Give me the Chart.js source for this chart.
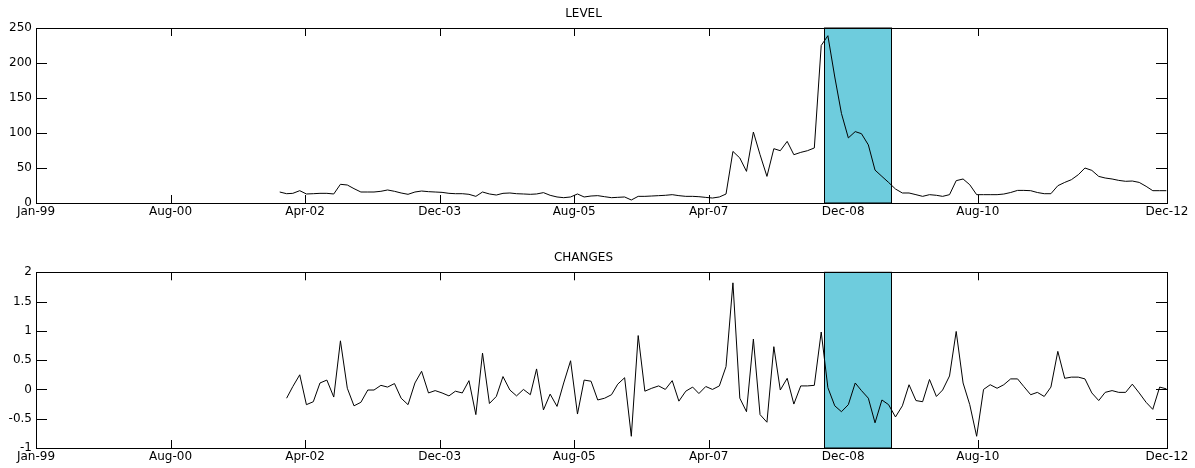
<!DOCTYPE html>
<html>
<head>
<meta charset="utf-8">
<script src="https://cdn.jsdelivr.net/npm/chart.js@4/dist/chart.umd.min.js"></script>
<style>
  html, body { margin: 0; padding: 0; background: #fff; }
  canvas { display: block; }
</style>
</head>
<body>
<canvas id="levelChart" width="1195" height="234"></canvas>
<canvas id="changesChart" width="1195" height="234"></canvas>
<script>
// monthly series
const levelStart = [2002, 0]; // Jan-02
const levelValues = [
  15.7, 13.3, 13.8, 17.6, 12.9, 13.3, 13.8, 13.8, 12.9, 26.7, 25.7, 20.5,
  15.7, 15.7, 15.7, 16.7, 18.6, 16.7, 14.3, 12.4, 15.7, 17.1, 16.2, 15.7,
  15.2, 13.8, 13.3, 13.3, 12.4, 9.5, 15.7, 12.9, 11.4, 13.8, 14.3, 13.3,
  12.9, 12.4, 12.9, 14.8, 11.0, 8.6, 7.6, 8.6, 12.9, 8.6, 10.0, 10.5,
  9.0, 7.6, 8.1, 8.6, 4.3, 9.5, 9.5, 10.0, 10.5, 11.0, 11.9, 10.5,
  9.5, 9.5, 9.0, 8.0, 7.1, 8.6, 12.8, 73.7, 64.3, 45.2, 101.4, 69.0,
  38.0, 77.6, 74.7, 88.0, 69.0, 72.3, 74.7, 78.6, 225, 239, 180, 128,
  93, 102, 99, 83, 47, 38, 29.4, 20.0, 14.3, 14.3, 11.9, 9.5,
  11.9, 11.0, 9.5, 11.9, 31.9, 34.3, 26.1, 11.9, 11.9, 11.9, 11.9, 12.8,
  15.0, 18.0, 18.0, 17.6, 15.0, 13.3, 13.3, 24.7, 29.4, 33.3, 40.4, 50.0,
  46.6, 38.0, 35.7, 34.3, 32.3, 31.0, 31.4, 29.4, 23.8, 17.6, 17.6, 17.6
];

const changesStart = [2002, 1]; // Feb-02
const changesValues = [
  -0.15, 0.05, 0.25, -0.26, -0.21, 0.11, 0.16, -0.13, 0.83, 0.02, -0.28,
  -0.22, -0.01, -0.01, 0.07, 0.04, 0.10, -0.15, -0.26, 0.11, 0.31, -0.06,
  -0.02, -0.06, -0.11, -0.03, -0.06, 0.15, -0.43, 0.62, -0.24, -0.12,
  0.22, -0.01, -0.11, 0.00, -0.09, 0.35, -0.35, -0.08, -0.29, 0.11,
  0.49, -0.42, 0.16, 0.14, -0.18, -0.15, -0.09, 0.09, 0.20, -0.80,
  0.92, -0.03, 0.02, 0.06, 0.00, 0.15, -0.20, -0.03, 0.04, -0.07,
  0.05, 0.00, 0.06, 0.39, 1.82, -0.15, -0.38, 0.86, -0.43, -0.56,
  0.73, -0.01, 0.19, -0.25, 0.06, 0.06, 0.07, 0.98, 0.03, -0.28,
  -0.38, -0.26, 0.11, -0.02, -0.15, -0.57, -0.18, -0.26, -0.47, -0.28,
  0.08, -0.19, -0.21, 0.17, -0.12, -0.01, 0.23, 0.99, 0.11, -0.26,
  -0.80, 0.00, 0.08, 0.02, 0.08, 0.18, 0.18, 0.05, -0.09, -0.05,
  -0.12, 0.04, 0.65, 0.19, 0.21, 0.21, 0.18, -0.06, -0.19, -0.05,
  -0.02, -0.05, -0.05, 0.09, -0.06, -0.22, -0.34, 0.04, 0.01
];

// date ticks (days after 1 Jan 1999)
const tickLabels = ['Jan-99', 'Aug-00', 'Apr-02', 'Dec-03', 'Aug-05', 'Apr-07', 'Dec-08', 'Aug-10', 'Dec-12'];
const tickDays = [0, 605, 1210, 1815, 2420, 3025, 3630, 4235, 5086];

// shaded episode
const shadeFrom = [2008, 8, 12];
const shadeTo = [2009, 6, 10];

const ORIGIN = Date.UTC(1999, 0, 1);
const dayOf = (y, m, d = 1) => (Date.UTC(y, m, d) - ORIGIN) / 864e5;
const monthly = (start, values) => values.map((v, i) => ({ x: dayOf(start[0], start[1] + i), y: v }));

const FONT = { family: '"DejaVu Sans", Arial, sans-serif', size: 12 };

// inward ticks, box and shaded band, drawn under the line
const matlabAxes = {
  id: 'matlabAxes',
  beforeDatasetsDraw(chart) {
    const { ctx, chartArea: a, scales: { x, y } } = chart;
    ctx.save();
    ctx.strokeStyle = '#000';
    ctx.lineWidth = 1;
    ctx.beginPath();
    x.ticks.forEach(t => {
      const px = Math.round(x.getPixelForValue(t.value)) + 0.5;
      ctx.moveTo(px, a.bottom); ctx.lineTo(px, a.bottom - 8);
      ctx.moveTo(px, a.top); ctx.lineTo(px, a.top + 8);
    });
    y.ticks.forEach(t => {
      const py = Math.round(y.getPixelForValue(t.value)) + 0.5;
      ctx.moveTo(a.left, py); ctx.lineTo(a.left + 11, py);
      ctx.moveTo(a.right, py); ctx.lineTo(a.right - 11, py);
    });
    ctx.stroke();

    const x0 = Math.round(x.getPixelForValue(dayOf(...shadeFrom))) + 0.5;
    const x1 = Math.round(x.getPixelForValue(dayOf(...shadeTo))) + 0.5;
    ctx.fillStyle = '#6ECCDD';
    ctx.fillRect(x0, a.top, x1 - x0, a.bottom - a.top);
    ctx.strokeRect(x0, a.top, x1 - x0, a.bottom - a.top);

    ctx.strokeRect(Math.round(a.left) + 0.5, Math.round(a.top) + 0.5,
      Math.round(a.right - a.left), Math.round(a.bottom - a.top));
    ctx.restore();
  }
};

function makePanel(id, title, points, yMin, yMax, step, titlePad, xHeight) {
  return new Chart(document.getElementById(id), {
    type: 'line',
    data: {
      datasets: [{
        data: points,
        borderColor: '#000',
        borderWidth: 1,
        pointRadius: 0,
        tension: 0,
        fill: false
      }]
    },
    options: {
      responsive: false,
      animation: false,
      devicePixelRatio: 1,
      layout: { padding: { right: 28, left: 0, top: 0, bottom: 0 } },
      plugins: {
        legend: { display: false },
        tooltip: { enabled: false },
        title: {
          display: true,
          text: title,
          color: '#000',
          font: { ...FONT, weight: 'normal' },
          padding: titlePad
        }
      },
      scales: {
        x: {
          type: 'linear',
          min: tickDays[0],
          max: tickDays[tickDays.length - 1],
          grid: { display: false, drawTicks: false },
          border: { display: false },
          afterBuildTicks: s => { s.ticks = tickDays.map(v => ({ value: v })); },
          afterFit: s => { s.height = xHeight; },
          ticks: {
            color: '#000',
            font: FONT,
            padding: 1.5,
            autoSkip: false,
            maxRotation: 0,
            callback: v => tickLabels[tickDays.indexOf(v)]
          }
        },
        y: {
          min: yMin,
          max: yMax,
          grid: { display: false, drawTicks: false },
          border: { display: false },
          afterFit: s => { s.width = 36; },
          ticks: {
            color: '#000',
            font: FONT,
            padding: 4,
            stepSize: step,
            callback: v => String(v)
          }
        }
      }
    },
    plugins: [matlabAxes]
  });
}

makePanel('levelChart', 'LEVEL', monthly(levelStart, levelValues), 0, 250, 50,
  { top: 7, bottom: 6.6 }, 31);
makePanel('changesChart', 'CHANGES', monthly(changesStart, changesValues), -1, 2, 0.5,
  { top: 16.8, bottom: 7.1 }, 20);
</script>
</body>
</html>
